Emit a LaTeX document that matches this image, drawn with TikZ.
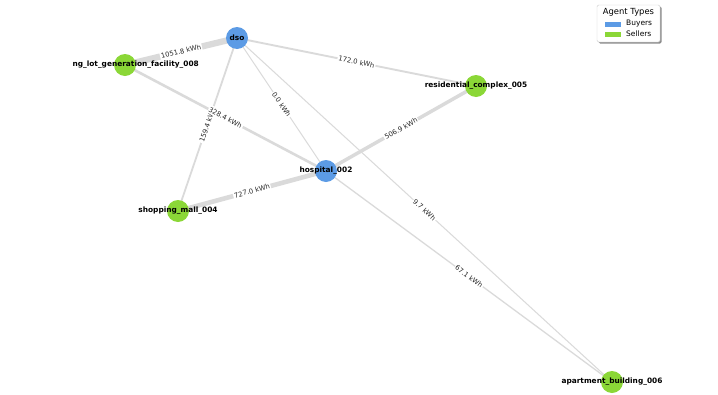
\documentclass[tikz,border=0pt]{standalone}
\usepackage{fontspec}
\setmainfont{DejaVu Sans}
\usetikzlibrary{backgrounds,shadows}
\definecolor{buyerblue}{RGB}{92,155,229}
\definecolor{sellergreen}{RGB}{139,215,55}
\definecolor{edgegray}{RGB}{218,218,218}

\begin{document}
\begin{tikzpicture}[x=1pt, y=-1pt,
  agent/.style={circle, minimum size=22pt, inner sep=0pt, label={[font=\fontsize{7.4}{8}\selectfont\bfseries, inner sep=0pt]center:#1}},
  buyer/.style={agent={#1}, fill=buyerblue},
  seller/.style={agent={#1}, fill=sellergreen},
  flow/.style={draw=edgegray, line width=#1},
  elabel/.style={fill=white, inner sep=1pt, sloped, midway, text=black!85, font=\fontsize{6.8}{7}\selectfont},
  legendbox/.style={rectangle, rounded corners=1.5pt, draw=black!20, fill=white, minimum width=63pt, minimum height=37pt, drop shadow={shadow xshift=1.5pt, shadow yshift=-1.5pt, fill=black!45, opacity=1}},
  keypatch/.style={rectangle, minimum width=16pt, minimum height=5pt, inner sep=0pt},
  keytext/.style={anchor=west, inner sep=0pt, font=\fontsize{7.5}{8}\selectfont}
]
\useasboundingbox (0,0) rectangle (718,394);
\clip (73.5,0) rectangle (718,394);

\node[buyer={dso}] (dso) at (237,38) {};
\node[seller={parking\_lot\_generation\_facility\_008}] (parking) at (125,65) {};
\node[seller={residential\_complex\_005}] (resid) at (476,86) {};
\node[buyer={hospital\_002}] (hosp) at (326,171) {};
\node[seller={shopping\_mall\_004}] (mall) at (178,211) {};
\node[seller={apartment\_building\_006}] (apart) at (612,382) {};

% energy flows, width grows with kWh
\begin{scope}[on background layer]
\draw[flow=6.3] (dso.center) -- node[elabel] {1051.8 kWh} (parking.center);
\draw[flow=1.9] (dso.center) -- node[elabel] {172.0 kWh} (resid.center);
\draw[flow=1] (dso.center) -- node[elabel] {0.0 kWh} (hosp.center);
\draw[flow=1.8] (dso.center) -- node[elabel] {159.4 kWh} (mall.center);
\draw[flow=1.05] (dso.center) -- node[elabel] {9.7 kWh} (apart.center);
\draw[flow=2.6] (parking.center) -- node[elabel] {328.4 kWh} (hosp.center);
\draw[flow=3.5] (resid.center) -- node[elabel] {506.9 kWh} (hosp.center);
\draw[flow=4.6] (mall.center) -- node[elabel] {727.0 kWh} (hosp.center);
\draw[flow=1.3] (hosp.center) -- node[elabel] {67.1 kWh} (apart.center);
\end{scope}

\node[legendbox] (legend) at (628.5,23.5) {};
\node[inner sep=0pt, font=\fontsize{8.4}{9}\selectfont] (ltitle) at (628.5,12.7) {Agent Types};
\node[keypatch, fill=buyerblue] (kbuy) at (613,24) {};
\node[keytext] (tbuy) at (626,24) {Buyers};
\node[keypatch, fill=sellergreen] (ksell) at (613,34) {};
\node[keytext] (tsell) at (626,34) {Sellers};
\end{tikzpicture}
\end{document}
